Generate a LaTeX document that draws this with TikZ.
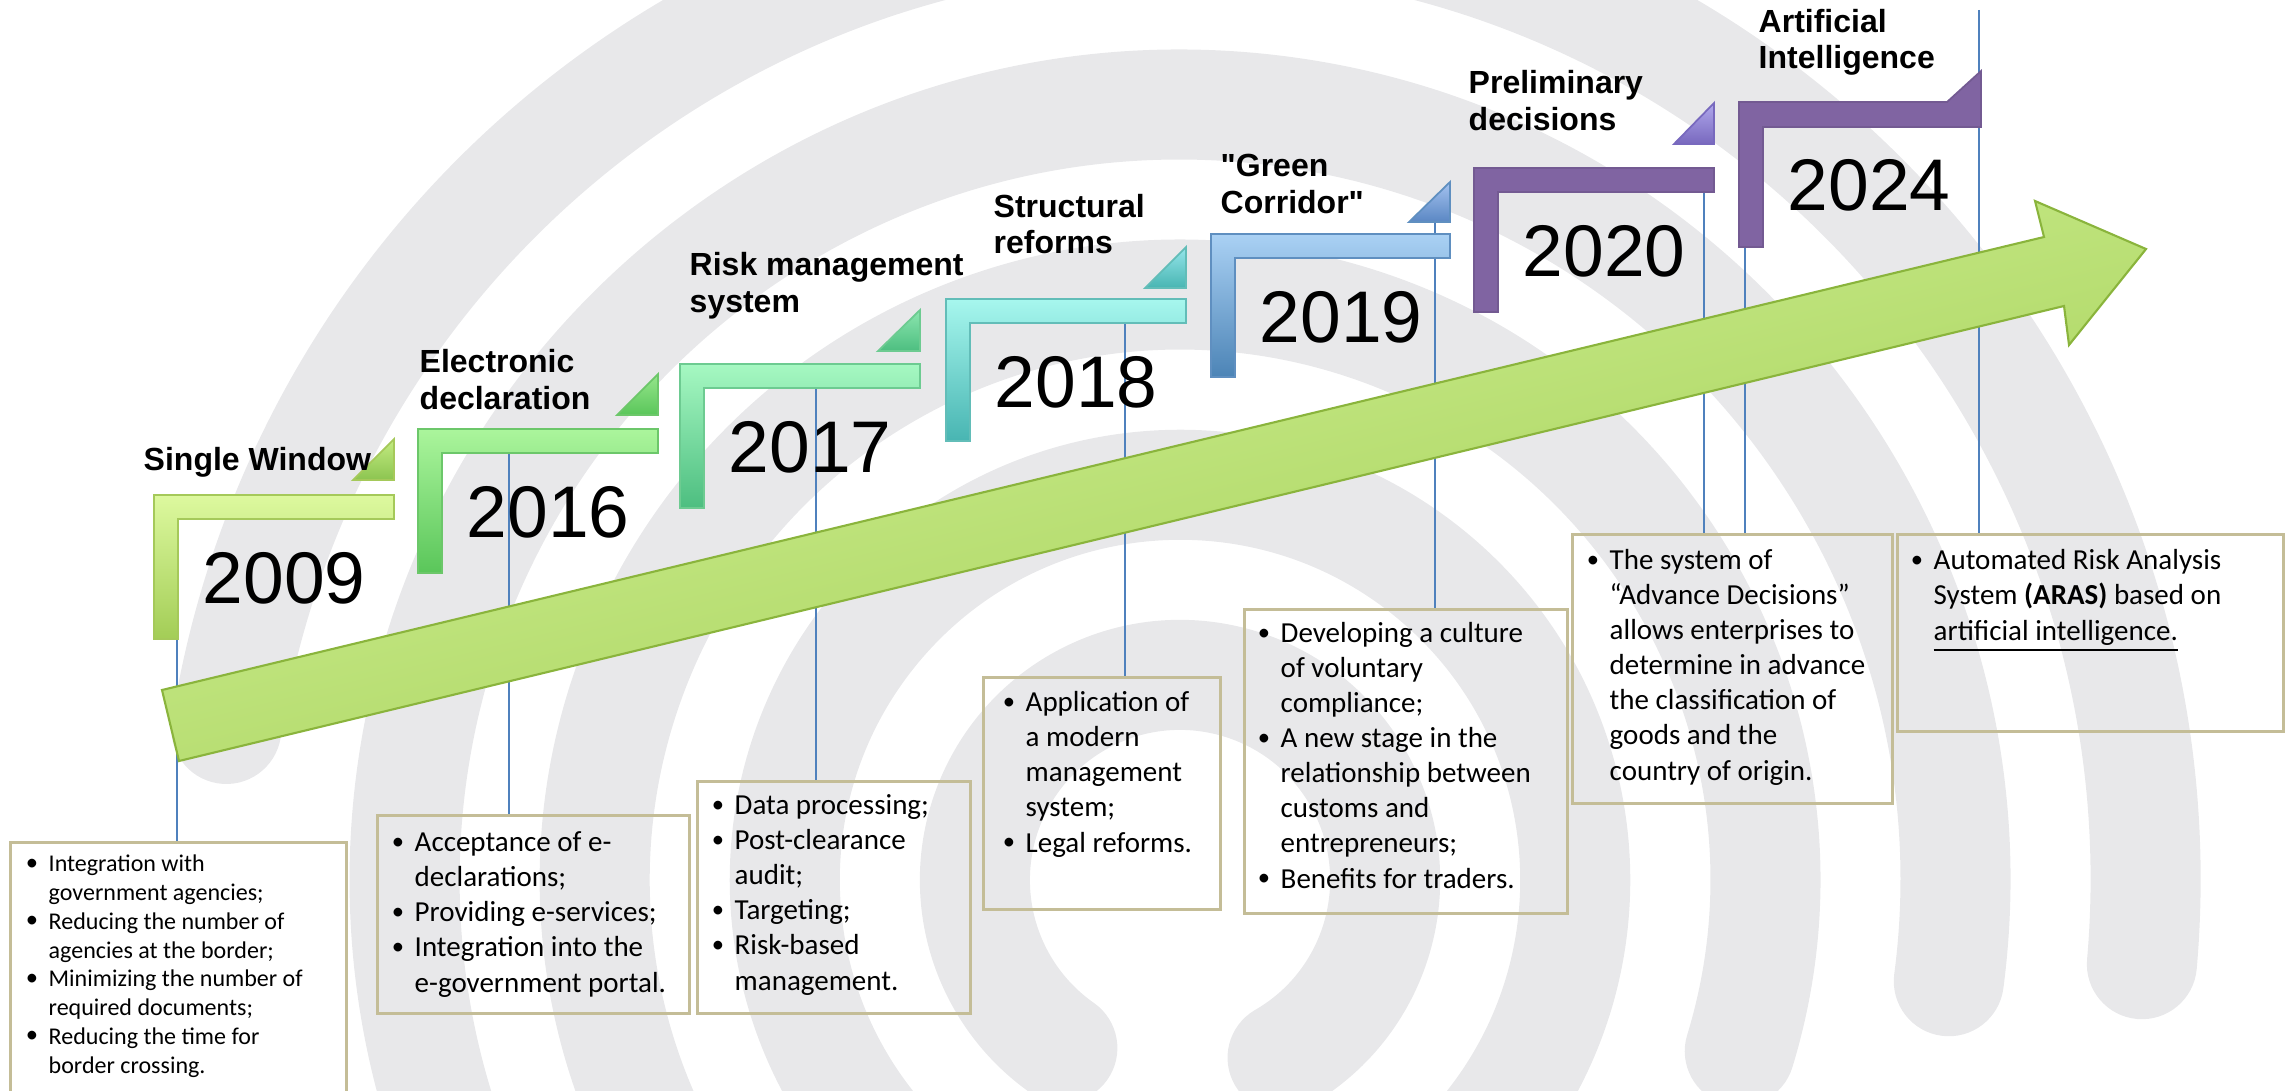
\documentclass[tikz,border=0pt]{standalone}
\usepackage{fontspec}
\setmainfont{Carlito}
\newfontfamily\arialfont{Liberation Sans}
\usetikzlibrary{positioning,calc}
\definecolor{ringgray}{RGB}{232,232,234}
\definecolor{linkblue}{RGB}{79,129,189}
\definecolor{boxline}{RGB}{196,189,151}
\definecolor{arrowtop}{RGB}{214,245,158}
\definecolor{arrowbot}{RGB}{160,204,80}
\definecolor{arrowedge}{RGB}{138,180,60}
\definecolor{purp}{RGB}{128,100,162}
\tikzstyle{ring} = [ringgray, line width=1.1cm, line cap=round]
\tikzstyle{link} = [linkblue, line width=0.45pt]
\tikzstyle{infobox} = [draw=boxline, line width=0.75pt, rectangle, inner sep=0, anchor=north west]
\tikzstyle{bultext} = [font=\fontsize{8.25}{9.96}\selectfont, align=left, inner sep=0, anchor=base west]
\tikzstyle{title} = [font=\arialfont\bfseries\fontsize{9.1}{10.5}\selectfont, align=left, inner sep=0, anchor=base west]
\tikzstyle{year} = [font=\arialfont\fontsize{20.8}{24}\selectfont, inner sep=0, anchor=base west]
\tikzstyle{bracket} = [line width=0.5pt, line join=miter]
\tikzstyle{bigarrow} = [draw=arrowedge, line width=0.6pt, top color=arrowtop, bottom color=arrowbot, shading angle=14]
\newcommand{\bul}{\makebox[0pt][r]{\raisebox{0.15ex}{\scriptsize\textbullet}\hspace{3pt}}}

\begin{document}
\begin{tikzpicture}[x=0.01cm, y=-0.01cm]
  \useasboundingbox (0,0) rectangle (2285,1091);
  \clip (0,0) rectangle (2285,1091);
  % background rings
  \coordinate (ctr) at (1180,880);
  \draw[ring] (ctr) ++(-60:2.05cm) arc[start angle=-60, end angle=235, radius=2.05cm];
  \draw[ring] (ctr) ++(-40:3.95cm) arc[start angle=-40, end angle=230, radius=3.95cm];
  \draw[ring] (ctr) ++(-17:5.85cm) arc[start angle=-17, end angle=212, radius=5.85cm];
  \draw[ring] (ctr) ++(-7.5:7.75cm) arc[start angle=-7.5, end angle=200, radius=7.75cm];
  \draw[ring] (ctr) ++(-5:9.65cm) arc[start angle=-5, end angle=171, radius=9.65cm];

  % boxes
  \node[infobox, minimum width=3.36cm, minimum height=2.7cm] (box2009) at (9,841) {};
  \node[infobox, minimum width=3.12cm, minimum height=1.98cm] (box2016) at (376,814) {};
  \node[infobox, minimum width=2.73cm, minimum height=2.32cm] (box2017) at (696,780) {};
  \node[infobox, minimum width=2.37cm, minimum height=2.32cm] (box2018) at (982,676) {};
  \node[infobox, minimum width=3.23cm, minimum height=3.04cm] (box2019) at (1243,608) {};
  \node[infobox, minimum width=3.2cm, minimum height=2.69cm] (box2020) at (1571,533) {};
  \node[infobox, minimum width=3.86cm, minimum height=1.97cm] (box2024) at (1896,533) {};

  % stems
  \coordinate (s2009) at (177,639);
  \coordinate (s2016) at (509,453);
  \coordinate (s2017) at (816,388);
  \coordinate (s2018) at (1125,323);
  \coordinate (s2019) at (1435,223);
  \coordinate (s2020) at (1704,192);
  \coordinate (s2024) at (1745,247);
  \coordinate (s2024b) at (1979,10);
  \draw[link] (s2009) -- (s2009 |- box2009.north);
  \draw[link] (s2016) -- (s2016 |- box2016.north);
  \draw[link] (s2017) -- (s2017 |- box2017.north);
  \draw[link] (s2018) -- (s2018 |- box2018.north);
  \draw[link] (s2019) -- (s2019 |- box2019.north);
  \draw[link] (s2020) -- (s2020 |- box2020.north);
  \draw[link] (s2024) -- (s2024 |- box2020.north);
  \draw[link] (s2024b) -- (s2024b |- box2024.north);

  % the big arrow
  \draw[bigarrow] (162,690) -- (2044,237) -- (2035,201) -- (2146,249) -- (2069,345) -- (2064,306) -- (179,761) -- cycle;

  % year brackets
  \draw[bracket, draw={rgb,255:red,165;green,201;blue,90}, top color={rgb,255:red,221;green,249;blue,159}, bottom color={rgb,255:red,163;green,205;blue,86}]
    (154,495) -- (394,495) -- (394,519) -- (178,519) -- (178,639) -- (154,639) -- cycle;
  \draw[bracket, draw={rgb,255:red,165;green,201;blue,90}, top color={rgb,255:red,196;green,236;blue,130}, bottom color={rgb,255:red,140;green,196;blue,80}]
    (353,480) -- (394,480) -- (394,439) -- cycle;
  \draw[bracket, draw={rgb,255:red,108;green,199;blue,106}, top color={rgb,255:red,171;green,245;blue,156}, bottom color={rgb,255:red,90;green,198;blue,90}]
    (418,429) -- (658,429) -- (658,453) -- (442,453) -- (442,573) -- (418,573) -- cycle;
  \draw[bracket, draw={rgb,255:red,108;green,199;blue,106}, top color={rgb,255:red,150;green,230;blue,140}, bottom color={rgb,255:red,90;green,198;blue,90}]
    (617,415) -- (658,415) -- (658,374) -- cycle;
  \draw[bracket, draw={rgb,255:red,109;green,203;blue,145}, top color={rgb,255:red,166;green,248;blue,194}, bottom color={rgb,255:red,77;green,190;blue,128}]
    (680,364) -- (920,364) -- (920,388) -- (704,388) -- (704,508) -- (680,508) -- cycle;
  \draw[bracket, draw={rgb,255:red,109;green,203;blue,145}, top color={rgb,255:red,140;green,230;blue,175}, bottom color={rgb,255:red,77;green,190;blue,128}]
    (878,351) -- (920,351) -- (920,310) -- cycle;
  \draw[bracket, draw={rgb,255:red,98;green,189;blue,184}, top color={rgb,255:red,167;green,247;blue,238}, bottom color={rgb,255:red,72;green,181;blue,178}]
    (946,299) -- (1186,299) -- (1186,323) -- (970,323) -- (970,441) -- (946,441) -- cycle;
  \draw[bracket, draw={rgb,255:red,98;green,189;blue,184}, top color={rgb,255:red,150;green,230;blue,235}, bottom color={rgb,255:red,72;green,181;blue,178}]
    (1145,288) -- (1186,288) -- (1186,247) -- cycle;
  \draw[bracket, draw={rgb,255:red,95;green,143;blue,192}, top color={rgb,255:red,170;green,209;blue,244}, bottom color={rgb,255:red,76;green,132;blue,182}]
    (1211,234) -- (1450,234) -- (1450,258) -- (1235,258) -- (1235,377) -- (1211,377) -- cycle;
  \draw[bracket, draw={rgb,255:red,95;green,143;blue,192}, top color={rgb,255:red,165;green,195;blue,240}, bottom color={rgb,255:red,90;green,135;blue,195}]
    (1409,222) -- (1450,222) -- (1450,182) -- cycle;
  \draw[bracket, draw=purp!90!black, fill=purp]
    (1474,168) -- (1714,168) -- (1714,192) -- (1498,192) -- (1498,312) -- (1474,312) -- cycle;
  \draw[bracket, draw={rgb,255:red,120;green,105;blue,190}, top color={rgb,255:red,176;green,168;blue,236}, bottom color={rgb,255:red,120;green,104;blue,190}]
    (1674,144) -- (1714,144) -- (1714,103) -- cycle;
  \draw[bracket, draw=purp!90!black, fill=purp]
    (1739,102) -- (1947,102) -- (1981,71) -- (1981,127) -- (1763,127) -- (1763,247) -- (1739,247) -- cycle;

  % titles (placed at the baseline of their last line)
  \node[title] (t2009) at (143,470) {Single Window};
  \node[title] (t2016) at (419,409) {Electronic\\declaration};
  \node[title] (t2017) at (689,312) {Risk management\\system};
  \node[title] (t2018) at (993,254) {Structural\\reforms};
  \node[title] (t2019) at (1220,213) {"Green\\Corridor"};
  \node[title] (t2020) at (1468,130) {Preliminary\\decisions};
  \node[title] (t2024) at (1758,69) {Artificial\\Intelligence};

  % years
  \node[year] (y2009) at (202,603) {2009};
  \node[year] (y2016) at (466,537) {2016};
  \node[year] (y2017) at (728,472) {2017};
  \node[year] (y2018) at (994,407) {2018};
  \node[year] (y2019) at (1259,342) {2019};
  \node[year] (y2020) at (1522,276) {2020};
  \node[year] (y2024) at (1787,210) {2024};

  % box texts
  \node[bultext, font=\fontsize{6.83}{8.17}\selectfont] (x2009) at (48,1073)
    {\bul Integration with\\government agencies;\\\bul Reducing the number of\\agencies at the border;\\\bul Minimizing the number of\\required documents;\\\bul Reducing the time for\\border crossing.};
  \node[bultext] (x2016) at (414,992)
    {\bul Acceptance of e-\\declarations;\\\bul Providing e-services;\\\bul Integration into the\\e-government portal.};
  \node[bultext] (x2017) at (734,990)
    {\bul Data processing;\\\bul Post-clearance\\audit;\\\bul Targeting;\\\bul Risk-based\\management.};
  \node[bultext] (x2018) at (1025,852)
    {\bul Application of\\a modern\\management\\system;\\\bul Legal reforms.};
  \node[bultext] (x2019) at (1280,888)
    {\bul Developing a culture\\of voluntary\\compliance;\\\bul A new stage in the\\relationship between\\customs and\\entrepreneurs;\\\bul Benefits for traders.};
  \node[bultext] (x2020) at (1609,780)
    {\bul The system of\\“Advance Decisions”\\allows enterprises to\\determine in advance\\the classification of\\goods and the\\country of origin.};
  \node[bultext] (x2024) at (1933,640)
    {\bul Automated Risk Analysis\\System \textbf{(ARAS)} based on\\\underline{artificial intelligence.}};
\end{tikzpicture}
\end{document}
